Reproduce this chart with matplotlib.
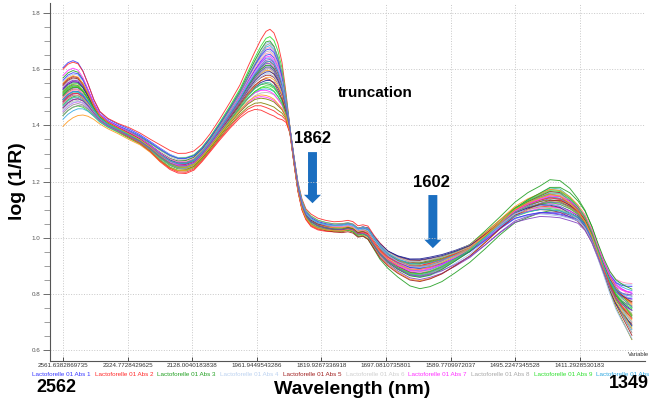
import numpy as np
import matplotlib.pyplot as plt
from matplotlib.patches import FancyArrow

plt.rcParams['font.family'] = ['Liberation Sans', 'DejaVu Sans']

# spectra: median curve and half-width of the bundle
wavelength = [2561.6, 2541.5, 2521.8, 2502.4, 2483.3, 2464.5, 2442.2, 2420.4, 2391.9, 2357.2,
              2316.8, 2284.3, 2252.6, 2221.8, 2191.8, 2168.4, 2145.5, 2123.1, 2101.1, 2079.5,
              2053.3, 2027.6, 2002.6, 1983.1, 1966.3, 1952.1, 1940.4, 1931.2, 1922.0, 1913.0,
              1904.0, 1895.2, 1886.4, 1877.7, 1869.0, 1860.4, 1852.0, 1841.4, 1827.0, 1810.7,
              1794.6, 1778.9, 1767.3, 1757.8, 1748.3, 1738.9, 1729.7, 1718.7, 1707.9, 1693.6,
              1676.2, 1655.7, 1638.9, 1622.6, 1603.4, 1583.0, 1560.2, 1538.1, 1516.5, 1495.6,
              1477.9, 1461.9, 1448.9, 1436.1, 1423.5, 1413.6, 1405.0, 1396.6, 1389.4, 1382.3,
              1375.3, 1368.4, 1361.5, 1355.8, 1350.2]
center = [1.501, 1.519, 1.529, 1.529, 1.515, 1.490, 1.455, 1.426, 1.405, 1.387,
          1.366, 1.348, 1.323, 1.294, 1.270, 1.259, 1.259, 1.270, 1.298, 1.334,
          1.383, 1.433, 1.483, 1.526, 1.558, 1.579, 1.590, 1.590, 1.579, 1.554,
          1.519, 1.462, 1.383, 1.277, 1.180, 1.116, 1.081, 1.059, 1.045, 1.038,
          1.034, 1.034, 1.038, 1.034, 1.020, 1.024, 1.017, 0.985, 0.956, 0.928,
          0.906, 0.888, 0.885, 0.892, 0.906, 0.928, 0.956, 0.999, 1.045, 1.088,
          1.109, 1.123, 1.131, 1.127, 1.109, 1.088, 1.056, 1.006, 0.949, 0.892,
          0.839, 0.799, 0.774, 0.757, 0.742]
spread = [0.110, 0.110, 0.107, 0.100, 0.085, 0.064, 0.039, 0.025, 0.021, 0.021,
          0.025, 0.025, 0.028, 0.036, 0.039, 0.039, 0.039, 0.036, 0.032, 0.032,
          0.036, 0.043, 0.053, 0.071, 0.089, 0.107, 0.121, 0.128, 0.128, 0.118,
          0.093, 0.050, 0.011, 0.014, 0.018, 0.021, 0.021, 0.025, 0.025, 0.025,
          0.025, 0.028, 0.028, 0.028, 0.028, 0.028, 0.032, 0.032, 0.036, 0.036,
          0.039, 0.043, 0.043, 0.039, 0.039, 0.036, 0.032, 0.032, 0.032, 0.036,
          0.043, 0.046, 0.053, 0.053, 0.053, 0.046, 0.043, 0.039, 0.036, 0.039,
          0.050, 0.064, 0.078, 0.089, 0.100]

# per-sample position inside the bundle at five anchor wavelengths
anchor_nm = [2514, 1936, 1623, 1440, 1350]
s_left = [0.95, 0.90, 0.62, 0.50, 0.42, 0.35, 0.28, 0.22, 0.18, 0.12, 0.08, 0.04, 0.00, -0.04,
          -0.08, -0.12, -0.16, -0.20, -0.25, -0.30, -0.35, -0.40, -0.46, -0.52, -0.60, -0.72,
          -0.95, 0.30, 0.15, -0.02, 0.25, -0.28, 0.55, -0.14, 0.06, -0.45, 0.38, -0.22, 0.70,
          -0.60, 0.10, -0.08, 0.45, -0.35]
s_peak = [0.40, 1.20, -0.35, 0.85, -0.10, 0.60, -0.75, 0.20, 1.00, -0.50, 0.05, 0.35, -0.95,
          0.70, -0.25, 0.15, 0.50, -1.20, 0.90, -0.05, 0.30, -0.60, 0.45, 0.10, -0.40, 0.75,
          -0.15, 0.25, -0.80, 0.55, 0.00, -0.30, 0.65, -1.05, 0.20, 0.40, -0.20, 0.10, -0.55,
          0.80, -0.45, 0.30, -0.70, 0.15]
s_valley = [-0.30, 0.50, 0.20, -0.70, 0.85, -0.10, 0.40, -0.45, 0.05, 0.65, -0.95, 0.25, 0.70,
            -0.20, 1.00, -0.60, 0.10, 0.45, -1.70, 0.30, -0.35, 0.80, 0.00, -0.50, 0.55, -0.15,
            0.35, -0.85, 0.60, -0.25, 0.90, -0.40, 0.15, 0.45, -0.65, 0.20, -1.00, 0.75, -0.05,
            0.30, -0.30, 0.50, 0.10, -0.55]
s_right = [0.20, -0.40, 1.50, 0.10, -0.70, 0.55, -0.20, 0.85, -0.55, 0.35, 0.00, -0.90, 0.45,
           0.65, -0.30, 0.95, -0.10, 0.25, -0.60, -1.00, 0.70, 0.15, -0.45, 0.50, -0.15, 0.30,
           0.80, -0.75, 0.05, 0.40, -0.35, 0.60, -0.85, 0.20, 1.00, -0.25, 0.10, -0.50, 0.35,
           -0.05, 0.75, -0.65, 0.45, -1.10]
s_end = [0.60, -0.20, 0.10, 0.90, -0.50, -0.10, 0.40, -0.80, 0.30, 0.70, -0.35, 0.15, -1.05,
         0.50, 0.00, -0.60, 0.85, 0.25, -0.25, 0.45, -0.90, 0.35, 0.65, -0.45, 0.05, -0.70, 0.20,
         0.55, -0.15, 0.95, -0.55, 0.10, 0.40, -0.30, 0.75, -1.00, 0.30, -0.40, 0.60, 0.15,
         -0.20, 0.50, -0.65, 0.00]

tick_labels = ['2561.6382869735', '2324.7728429625', '2128.0040183838', '1961.9449543286',
               '1819.9267336918', '1697.0810735801', '1589.7709972037', '1495.2247345528',
               '1411.2928530183']
legend_names = ['Lactoforelle 01 Abs %d' % k for k in range(1, 11)]
legend_colors = ['#3a3aff', '#ff2a2a', '#22a022', '#bcd2f0', '#a02020',
                 '#cfcfcf', '#ff30ff', '#a8a8a8', '#30e030', '#30a8e0']
line_colors = ['#3a3aff', '#ff2a2a', '#22a022', '#9cc0f0', '#a02020', '#b8b8b8', '#ff30ff',
               '#909090', '#30e030', '#30a8e0', '#ff9a20', '#8040c0', '#808000', '#ff90b8',
               '#202090', '#40c0a0']

wn = 1e7 / np.array(wavelength)
anchor_wn = 1e7 / np.array(anchor_nm, dtype=float)
center = np.array(center)
spread = np.array(spread)

fig = plt.figure(figsize=(6.5, 4.08), dpi=100)
ax = fig.add_axes([50 / 650, 1 - 361 / 408, 595 / 650, 358 / 408])

for i in range(len(s_left)):
    sc = [s_left[i], s_peak[i], s_valley[i], s_right[i], s_end[i]]
    w = np.interp(wn, anchor_wn, sc)
    ax.plot(wn, center + spread * w, color=line_colors[i % len(line_colors)], lw=0.65, alpha=0.9)

ax.set_xlim(3824, 7487)
ax.set_ylim(0.561, 1.836)
ax.set_yticks(np.arange(0.6, 1.81, 0.2))
ax.set_yticks(np.arange(0.6, 1.81, 0.05), minor=True)
ax.set_yticklabels(['%.1f' % v for v in np.arange(0.6, 1.81, 0.2)])
ax.set_xticks(1e7 / np.array([float(t) for t in tick_labels]))
ax.set_xticklabels(tick_labels)
ax.tick_params(axis='y', which='major', direction='out', length=5, width=0.6,
               labelsize=4.5, colors='#555555', pad=2)
ax.tick_params(axis='y', which='minor', direction='out', length=4, width=0.5, colors='#777777')
ax.tick_params(axis='x', direction='in', length=3, width=0.6, labelsize=4.5,
               colors='#333333', pad=1.5)
ax.grid(True, which='major', color='#c8c8c8', ls=':', lw=0.7)
for side in ['top', 'right']:
    ax.spines[side].set_visible(False)
for side in ['left', 'bottom']:
    ax.spines[side].set_color('#555555')
    ax.spines[side].set_linewidth(0.8)

# arrows and notes
blue = '#1a6ec0'
ax.add_patch(FancyArrow(5440, 1.305, 0, -0.182, width=55, head_width=105, head_length=0.03,
                        length_includes_head=True, color=blue, lw=0))
ax.add_patch(FancyArrow(6181, 1.152, 0, -0.189, width=55, head_width=105, head_length=0.03,
                        length_includes_head=True, color=blue, lw=0))
ax.text(5824, 1.515, 'truncation', fontsize=11, fontweight='bold', ha='center', va='center')
ax.text(5437, 1.355, '1862', fontsize=12, fontweight='bold', ha='center', va='center')
ax.text(6175, 1.195, '1602', fontsize=12, fontweight='bold', ha='center', va='center')

for k, (name, col) in enumerate(zip(legend_names, legend_colors)):
    fig.text((32 + k * 62.7) / 650, 1 - 374 / 408, name, fontsize=4.5, color=col,
             ha='left', va='center')
fig.text(628 / 650, 1 - 355 / 408, 'Variable', fontsize=4.2, color='#333333',
         ha='left', va='center')

fig.text(56 / 650, 1 - 388 / 408, '2562', fontsize=13, fontweight='bold', ha='center', va='center')
fig.text(629 / 650, 1 - 383 / 408, '1349', fontsize=13, fontweight='bold', ha='center', va='center')
fig.text(352 / 650, 1 - 390 / 408, 'Wavelength (nm)', fontsize=14, fontweight='bold',
         ha='center', va='center')
fig.text(17 / 650, 1 - 181 / 408, 'log (1/R)', fontsize=14, fontweight='bold',
         rotation=90, ha='center', va='center')

fig.savefig('out.png', dpi=100)
